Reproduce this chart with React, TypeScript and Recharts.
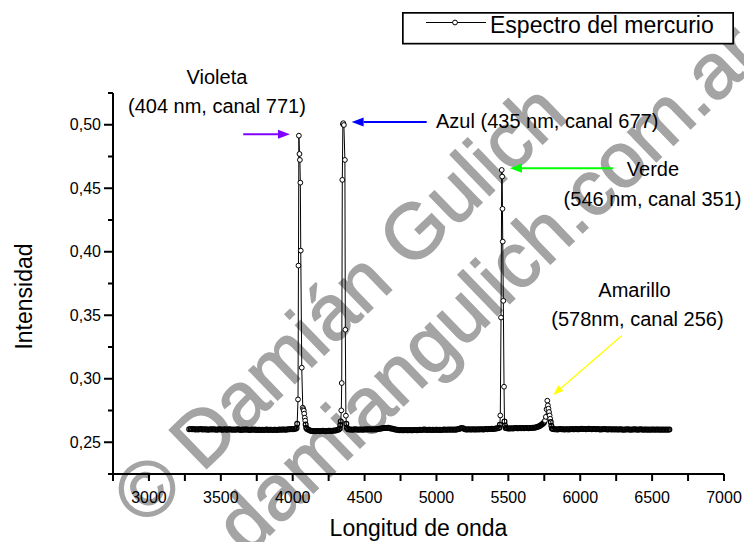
import { Legend, Line, LineChart, ReferenceDot, ReferenceLine, XAxis, YAxis } from "recharts";

const FONT = '"Liberation Sans", Arial, Helvetica, sans-serif';

// baseline samples, one every 10 Å
const baseStep = 10;
const baseAStart = 3280;
const baseA = [
  0.2603, 0.2605, 0.2602, 0.2604, 0.2601, 0.2603, 0.26, 0.2602, 0.2604, 0.2601,
  0.2603, 0.26, 0.2602, 0.2599, 0.2601, 0.2603, 0.26, 0.2602, 0.2601, 0.2599,
  0.2601, 0.2603, 0.26, 0.2598, 0.26, 0.2602, 0.2599, 0.2601, 0.2603, 0.26,
  0.2599, 0.2601, 0.2598, 0.26, 0.2602, 0.2599, 0.2597, 0.26, 0.2598, 0.26,
  0.2601, 0.2599, 0.2597, 0.2599, 0.2601, 0.2598, 0.26, 0.2597, 0.2599, 0.2598,
  0.2597, 0.2599, 0.2596, 0.2598, 0.26, 0.2597, 0.2599, 0.2598, 0.2596, 0.2598,
  0.2599, 0.2597, 0.2599, 0.26, 0.2598, 0.26, 0.2601, 0.2599, 0.2601, 0.2603,
  0.2602, 0.2604, 0.2603, 0.2605, 0.2607,
];
const baseBStart = 4100;
const baseB = [
  0.2605, 0.2598, 0.2592, 0.2589, 0.2587, 0.2588, 0.2586, 0.2588, 0.2589, 0.2587,
  0.2588, 0.259, 0.2589, 0.2587, 0.2589, 0.2591, 0.259, 0.2588, 0.259, 0.2592,
  0.2593, 0.2596, 0.26,
];
const baseCStart = 4385;
const baseC = [
  0.2602, 0.26, 0.2601, 0.2599, 0.26, 0.2602, 0.26, 0.2599, 0.2601, 0.26,
  0.2599, 0.2601, 0.26, 0.2602, 0.2601, 0.2603, 0.2601, 0.26, 0.2602, 0.2601,
  0.2603, 0.2604, 0.2606, 0.2608, 0.261, 0.2612, 0.2613, 0.2612, 0.2614, 0.2611,
  0.2609, 0.2606, 0.2603, 0.26, 0.2598, 0.2596, 0.2595, 0.2597, 0.2595, 0.2594,
  0.2596, 0.2594, 0.2595, 0.2597, 0.2595, 0.2594, 0.2596, 0.2597, 0.2595, 0.2596,
  0.2598, 0.2596, 0.2598, 0.26, 0.2598, 0.2597, 0.2599, 0.2598, 0.2596, 0.2598,
  0.2597, 0.2599, 0.2598, 0.2596, 0.2598, 0.2597, 0.2599, 0.26, 0.2598, 0.2599,
  0.26, 0.2598, 0.26, 0.2599, 0.2601, 0.2599, 0.2602, 0.2605, 0.2609, 0.2613,
  0.2611, 0.2605, 0.2601, 0.26, 0.2602, 0.26, 0.2601, 0.2603, 0.2601, 0.26,
  0.2602, 0.2601, 0.2603, 0.2602, 0.26, 0.2602, 0.2604, 0.2603, 0.2605, 0.2604,
  0.2606, 0.2605, 0.2607, 0.2609, 0.2611,
];
const baseDStart = 5490;
const baseD = [
  0.261, 0.2608, 0.2609, 0.2611, 0.2609, 0.261, 0.2612, 0.261, 0.2611, 0.2613,
  0.2611, 0.2612, 0.261, 0.2612, 0.2613, 0.2611, 0.2613, 0.2612, 0.2614,
];
const baseEStart = 5810;
const baseE = [
  0.2604, 0.2602, 0.2603, 0.2601, 0.2603, 0.2604, 0.2602, 0.2603, 0.2601, 0.2602,
  0.2603, 0.2601, 0.2602, 0.2604, 0.2602, 0.2603, 0.2605, 0.2603, 0.2602, 0.2604,
  0.2606, 0.2604, 0.2605, 0.2603, 0.2604, 0.2606, 0.2604, 0.2603, 0.2605, 0.2604,
  0.2602, 0.2604, 0.2603, 0.2601, 0.2603, 0.2602, 0.2604, 0.2602, 0.2601, 0.2603,
  0.2602, 0.26, 0.2602, 0.2601, 0.2603, 0.2601, 0.26, 0.2602, 0.2601, 0.2599,
  0.2601, 0.26, 0.2602, 0.26, 0.2599, 0.2601, 0.26, 0.2602, 0.26, 0.2599,
  0.26, 0.2602, 0.26, 0.2599, 0.2601, 0.26, 0.2598, 0.26, 0.2599, 0.2601,
  0.26, 0.2599, 0.2601, 0.26, 0.2598, 0.26, 0.2599, 0.26, 0.2598, 0.26,
  0.2599, 0.26,
];

// the four lines
const violetaX = [4027, 4031, 4037, 4040, 4043, 4047, 4050, 4053, 4056, 4063, 4070, 4074, 4077, 4080, 4084, 4087, 4090, 4094];
const violetaY = [0.2612, 0.2646, 0.2837, 0.3891, 0.4914, 0.477, 0.4723, 0.4544, 0.4009, 0.3087, 0.2772, 0.276, 0.2748, 0.2725, 0.2693, 0.267, 0.264, 0.2615];
const azulX = [4327, 4331, 4334, 4338, 4341, 4345, 4349, 4352, 4356, 4363, 4366, 4370, 4373, 4377];
const azulY = [0.2608, 0.2635, 0.2664, 0.2751, 0.2966, 0.4566, 0.5005, 0.5012, 0.4998, 0.4723, 0.3386, 0.2709, 0.2645, 0.2612];
const verdeX = [5437, 5441, 5444, 5449, 5454, 5457, 5459, 5461, 5465, 5470, 5473, 5477, 5481];
const verdeY = [0.2614, 0.2638, 0.2711, 0.3482, 0.4644, 0.4592, 0.4338, 0.408, 0.3614, 0.2937, 0.2664, 0.2632, 0.2612];
const amarilloX = [5680, 5690, 5700, 5710, 5720, 5730, 5740, 5748, 5755, 5761, 5766, 5771, 5775, 5779, 5783, 5787, 5791, 5795, 5799, 5803];
const amarilloY = [0.2615, 0.2617, 0.262, 0.2624, 0.263, 0.2638, 0.2646, 0.2656, 0.267, 0.27, 0.276, 0.2827, 0.279, 0.2764, 0.2738, 0.2711, 0.2685, 0.2659, 0.263, 0.2608];

const xTicks = [2750, 3000, 3250, 3500, 3750, 4000, 4250, 4500, 4750, 5000, 5250, 5500, 5750, 6000, 6250, 6500, 6750, 7000];
const yTicks = [0.225, 0.25, 0.275, 0.3, 0.325, 0.35, 0.375, 0.4, 0.425, 0.45, 0.475, 0.5, 0.525];

// annotations
const noteText = ["Violeta", "(404 nm, canal 771)", "Azul (435 nm, canal 677)", "Verde", "(546 nm, canal 351)", "Amarillo", "(578nm, canal 256)"];
const noteX = [3473, 3473, 4997, 6506, 6503, 6377, 6398];
const noteY = [0.5376, 0.5148, 0.5031, 0.4652, 0.4416, 0.3696, 0.3467];
const noteAnchor = ["middle", "middle", "start", "middle", "middle", "middle", "middle"];

const arrowFrom = [[3656, 0.4925], [4932, 0.5022], [6230, 0.4658], [6288, 0.3338]];
const arrowTo = [[3981, 0.4925], [4410, 0.5022], [5511, 0.4658], [5813, 0.2874]];
const arrowColor = ["#8000ff", "#0000ff", "#00ff00", "#ffff00"];

const seg = (start: number, vals: number[]) => vals.map((y, i) => ({ x: start + i * baseStep, y }));
const peak = (xs: number[], ys: number[]) => xs.map((x, i) => ({ x, y: ys[i] }));

const data = [
  ...seg(baseAStart, baseA),
  ...peak(violetaX, violetaY),
  ...seg(baseBStart, baseB),
  ...peak(azulX, azulY),
  ...seg(baseCStart, baseC),
  ...peak(verdeX, verdeY),
  ...seg(baseDStart, baseD),
  ...peak(amarilloX, amarilloY),
  ...seg(baseEStart, baseE),
];

const renderDot = (p: any) => {
  const { cx, cy, index } = p;
  const v = p.payload ? p.payload.y : p.value;
  if (cx == null || cy == null) return <g key={`d${index}`} />;
  const open = v > 0.2665;
  return (
    <circle
      key={`d${index}`}
      cx={cx}
      cy={cy}
      r={2.4}
      fill={open ? "#fff" : "none"}
      stroke="#000"
      strokeWidth={open ? 1 : 1.2}
    />
  );
};

const YTick = (props: any) => {
  const { x, y, payload } = props;
  const major = Math.round(payload.value * 1000) % 50 === 0;
  return (
    <g>
      <line x1={x} x2={x - (major ? 9 : 5)} y1={y} y2={y} stroke="#000" strokeWidth={2} />
      {major && (
        <text x={x - 12} y={y} textAnchor="end" dominantBaseline="central" fontSize={16} fill="#000">
          {payload.value.toFixed(2).replace(".", ",")}
        </text>
      )}
    </g>
  );
};

const YTitle = (props: any) => {
  const vb = props.viewBox;
  const cx = vb.x + 24;
  const cy = vb.y + vb.height / 2 + 13;
  return (
    <text x={cx} y={cy} transform={`rotate(-90 ${cx} ${cy})`} textAnchor="middle" dominantBaseline="central" fontSize={23} fill="#000">
      Intensidad
    </text>
  );
};

const arrowShape = (color: string, width: number, head: number) => (p: any) => {
  const { x1, y1, x2, y2 } = p;
  const dx = x2 - x1;
  const dy = y2 - y1;
  const len = Math.hypot(dx, dy) || 1;
  const ux = dx / len;
  const uy = dy / len;
  const bx = x2 - ux * head;
  const by = y2 - uy * head;
  const hw = head * 0.38;
  return (
    <g>
      <line x1={x1} y1={y1} x2={bx} y2={by} stroke={color} strokeWidth={width} />
      <polygon points={`${x2},${y2} ${bx - uy * hw},${by + ux * hw} ${bx + uy * hw},${by - ux * hw}`} fill={color} />
    </g>
  );
};

const LegendBox = (props: any) => {
  const name = props.payload && props.payload[0] ? props.payload[0].value : "";
  return (
    <svg width={332} height={33} style={{ display: "block" }}>
      <rect x={0.85} y={0.85} width={330.3} height={30.8} fill="#fff" stroke="#000" strokeWidth={1.7} />
      <line x1={24} x2={84} y1={10.5} y2={10.5} stroke="#000" strokeWidth={1} />
      <circle cx={53} cy={10.5} r={2.4} fill="#fff" stroke="#000" strokeWidth={1} />
      <text x={88} y={20.5} fontSize={23} fill="#000">
        {name}
      </text>
    </svg>
  );
};

export default function App() {
  return (
    <div style={{ position: "absolute", left: 0, top: 0, width: 744, height: 542, background: "#fff", fontFamily: FONT }}>
      <svg width={744} height={542} style={{ position: "absolute", left: 0, top: 0 }}>
        <g fill="#a4a4a4" stroke="#a4a4a4" strokeWidth={1.5} fontSize={78}>
          <text x={145} y={528} transform="rotate(-44 145 528)">© Damián Gulich</text>
          <text x={247} y={557} transform="rotate(-44 247 557)">damiangulich.com.ar</text>
        </g>
      </svg>
      <div style={{ position: "absolute", left: 0, top: 0 }}>
        <LineChart width={744} height={542} data={data} margin={{ top: 93, right: 20, bottom: 0, left: 0 }}>
          <XAxis
            type="number"
            dataKey="x"
            domain={[2750, 7000]}
            ticks={xTicks}
            interval={0}
            height={68}
            tickSize={7}
            tickMargin={11}
            tickFormatter={(v: number) => (v % 500 === 0 ? String(v) : "")}
            tick={{ fill: "#000", fontSize: 16 }}
            axisLine={{ stroke: "#000", strokeWidth: 2 }}
            tickLine={{ stroke: "#000", strokeWidth: 2 }}
            label={{ value: "Longitud de onda", position: "insideBottom", offset: 6, fill: "#000", fontSize: 23 }}
          />
          <YAxis
            type="number"
            domain={[0.225, 0.525]}
            ticks={yTicks}
            interval={0}
            width={113}
            tickSize={0}
            tickMargin={0}
            tick={<YTick />}
            axisLine={{ stroke: "#000", strokeWidth: 2 }}
            tickLine={false}
            label={{ content: <YTitle /> }}
          />
          <Legend
            layout="horizontal"
            verticalAlign="middle"
            align="center"
            content={<LegendBox />}
            wrapperStyle={{ left: 402, top: 12, width: 332, height: 33 }}
          />
          <Line
            name="Espectro del mercurio"
            type="linear"
            dataKey="y"
            stroke="#000"
            strokeWidth={1}
            dot={renderDot}
            activeDot={false}
            isAnimationActive={false}
          />
          {arrowFrom.map((f, i) => (
            <ReferenceLine
              key={`a${i}`}
              segment={[
                { x: f[0], y: f[1] },
                { x: arrowTo[i][0], y: arrowTo[i][1] },
              ]}
              ifOverflow="visible"
              shape={arrowShape(arrowColor[i], i === 3 ? 1.3 : 2, i === 3 ? 10 : 12)}
            />
          ))}
          {noteText.map((t, i) => (
            <ReferenceDot
              key={t}
              x={noteX[i]}
              y={noteY[i]}
              r={0}
              ifOverflow="visible"
              shape={(p: any) => (
                <text x={p.cx} y={p.cy} textAnchor={noteAnchor[i]} dominantBaseline="central" fontSize={20} fill="#000">
                  {t}
                </text>
              )}
            />
          ))}
        </LineChart>
      </div>
    </div>
  );
}
